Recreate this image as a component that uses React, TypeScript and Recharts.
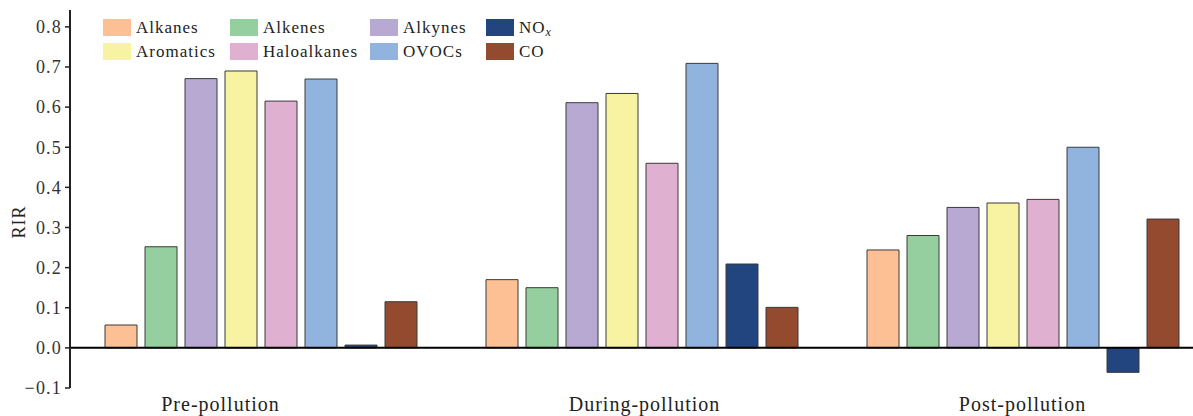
import React from 'react';
import { BarChart, Bar, XAxis, YAxis, ReferenceLine, Legend } from 'recharts';

const categories = ['Pre-pollution', 'During-pollution', 'Post-pollution'];
const alkanes = [0.057, 0.170, 0.244];
const alkenes = [0.252, 0.150, 0.280];
const alkynes = [0.671, 0.611, 0.350];
const aromatics = [0.690, 0.634, 0.361];
const haloalkanes = [0.615, 0.460, 0.370];
const ovocs = [0.670, 0.709, 0.500];
const nox = [0.007, 0.209, -0.061];
const co = [0.115, 0.101, 0.321];
const yTicks = [-0.1, 0, 0.1, 0.2, 0.3, 0.4, 0.5, 0.6, 0.7, 0.8];

const series = [
  { key: 'Alkanes', values: alkanes, color: '#FDC094' },
  { key: 'Alkenes', values: alkenes, color: '#95CF9F' },
  { key: 'Alkynes', values: alkynes, color: '#B8A9D3' },
  { key: 'Aromatics', values: aromatics, color: '#F8F3A3' },
  { key: 'Haloalkanes', values: haloalkanes, color: '#E0B0D1' },
  { key: 'OVOCs', values: ovocs, color: '#91B4DF' },
  { key: 'NOx', values: nox, color: '#22457F' },
  { key: 'CO', values: co, color: '#944A2E' },
];

const legendOrder = ['Alkanes', 'Alkenes', 'Alkynes', 'NOx', 'Aromatics', 'Haloalkanes', 'OVOCs', 'CO'];

const data = categories.map((c, i) => {
  const row: Record<string, any> = { name: c };
  series.forEach((s) => {
    row[s.key] = s.values[i];
  });
  return row;
});

const FONT = "'Times New Roman', 'Liberation Serif', Times, serif";

const labelShift: Record<string, number> = {
  'Pre-pollution': -40,
  'During-pollution': 3,
  'Post-pollution': 0,
};

const PLOT_BOTTOM = 388;

const XTick = (props: any) => {
  const { x, payload } = props;
  const v = payload.value as string;
  return (
    <text
      x={x + (labelShift[v] || 0)}
      y={PLOT_BOTTOM + 23}
      textAnchor="middle"
      style={{ fontFamily: FONT, fontSize: 20, letterSpacing: 1 }}
      fill="#222"
    >
      {v}
    </text>
  );
};

const renderLegend = () => {
  const byKey: Record<string, string> = {};
  series.forEach((s) => (byKey[s.key] = s.color));
  return (
    <div
      style={{
        display: 'grid',
        gridTemplateColumns: '127px 140px 116px auto',
        rowGap: 7,
        fontFamily: FONT,
        fontSize: 17,
        letterSpacing: 1,
        color: '#222',
        lineHeight: '17px',
        textAlign: 'left',
      }}
    >
      {legendOrder.map((k) => (
        <div key={k} style={{ display: 'flex', alignItems: 'center' }}>
          <span
            style={{
              display: 'inline-block',
              width: 28,
              height: 17,
              background: byKey[k],
              marginRight: 5,
            }}
          />
          {k === 'NOx' ? (
            <span>
              NO
              <sub style={{ fontStyle: 'italic', fontSize: 12, verticalAlign: '-3px', lineHeight: 0 }}>x</sub>
            </span>
          ) : (
            <span>{k}</span>
          )}
        </div>
      ))}
    </div>
  );
};

const RirLabel = (props: any) => {
  const vb = props.viewBox || { x: 0, y: 10, width: 70, height: 378 };
  const cx = vb.x + 19;
  const cy = vb.y + vb.height / 2 + 23;
  return (
    <text
      x={cx}
      y={cy}
      transform={`rotate(-90 ${cx} ${cy})`}
      textAnchor="middle"
      dominantBaseline="central"
      style={{ fontFamily: FONT, fontSize: 18, letterSpacing: 1 }}
      fill="#222"
    >
      RIR
    </text>
  );
};

export default function App() {
  return (
    <div style={{ position: 'absolute', top: 0, left: 0, width: 1193, height: 416, overflow: 'hidden', background: '#fff' }}>
      <BarChart
        width={1230}
        height={416}
        data={data}
        margin={{ top: 10, right: 17, left: 0, bottom: 0 }}
        barSize={32}
        barGap={8}
      >
        <XAxis
          dataKey="name"
          axisLine={false}
          tickLine={false}
          tickSize={0}
          tickMargin={0}
          height={28}
          tick={<XTick />}
          interval={0}
        />
        <YAxis
          width={70}
          domain={[-0.1, 0.842]}
          ticks={yTicks}
          interval={0}
          allowDataOverflow
          axisLine={{ stroke: '#222', strokeWidth: 2 }}
          tickLine={{ stroke: '#222', strokeWidth: 1.5 }}
          tickSize={5}
          tickMargin={3}
          tickFormatter={(v: number) => v.toFixed(1).replace('-', '\u2212')}
          tick={{ style: { fontFamily: FONT, fontSize: 18, letterSpacing: 1.2 }, fill: '#333' }}
          label={<RirLabel />}
        />
        <ReferenceLine y={0} stroke="#000" strokeWidth={2} />
        <Legend
          content={renderLegend}
          layout="horizontal"
          verticalAlign="middle"
          align="center"
          wrapperStyle={{ top: 19, left: 103, width: 520, right: 'auto', bottom: 'auto' }}
        />
        {series.map((s) => (
          <Bar
            key={s.key}
            dataKey={s.key}
            fill={s.color}
            stroke="#3a3a3a"
            strokeWidth={1}
            isAnimationActive={false}
          />
        ))}
      </BarChart>
    </div>
  );
}
